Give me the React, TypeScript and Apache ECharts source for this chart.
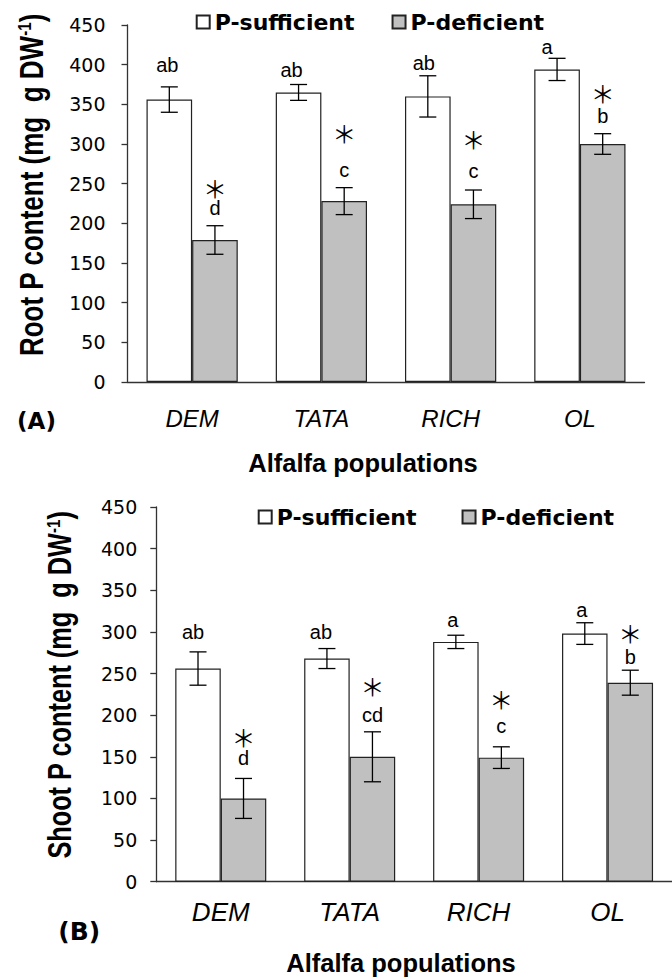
import React, { useEffect, useRef } from 'react';
import * as echarts from 'echarts';

// ---------- data ----------
const categories = ['DEM', 'TATA', 'RICH', 'OL'];
const seriesNames = ['P-sufficient', 'P-deficient'];

// (A) Root P content
const rootSufficient = [356, 365, 360, 394];
const rootSufficientErr = [16, 10, 26, 14];
const rootDeficient = [179, 228, 224, 300];
const rootDeficientErr = [18, 17, 18, 13];
const rootSufficientLetters = ['ab', 'ab', 'ab', 'a'];
const rootDeficientLetters = ['d', 'c', 'c', 'b'];

// (B) Shoot P content
const shootSufficient = [256, 268, 288, 298];
const shootSufficientErr = [20, 12, 8, 13];
const shootDeficient = [100, 150, 149, 239];
const shootDeficientErr = [24, 30, 13, 15];
const shootSufficientLetters = ['ab', 'ab', 'a', 'a'];
const shootDeficientLetters = ['d', 'cd', 'c', 'b'];

const significanceMark = ['＊', '＊', '＊', '＊'];

const yMin = 0;
const yMax = 450;
const yStep = 50;

// ---------- label placement tweaks (pixels above error-bar top) ----------
const rootSuffLift = [22, 15, 13, 11];
const rootSuffDx = [-2, -7, -4, -10];
const rootDefLift = [18, 18, 19, 18];
const rootStarLift = [38, 55, 52, 41];
const shootSuffLift = [20, 17, 15, 13];
const shootSuffDx = [-5, -6, -3, -3];
const shootDefLift = [20, 17, 21, 13];
const shootStarLift = [42, 46, 48, 38];

// ---------- styles ----------
const GAP = 0.294;
const SANS = "'Liberation Sans', Arial, sans-serif";
const WIDE = "'DejaVu Sans', sans-serif";
const STAR_FONT = "'Noto Sans CJK JP', 'DejaVu Sans', sans-serif";
const AXIS_COLOR = '#333';
const BORDER = '#222';
const GRAY = '#c0c0c0';
const STAR_SIZE = 24;
const STAR_SHIFT = 0;

function errorSeries(gi: number, suff: number[], suffErr: number[], def: number[], defErr: number[]) {
  const data: number[][] = [];
  categories.forEach((_, i) => {
    data.push([i, suff[i], suffErr[i], 0]);
    data.push([i, def[i], defErr[i], 1]);
  });
  return {
    type: 'custom',
    xAxisIndex: gi,
    yAxisIndex: gi,
    silent: true,
    z: 5,
    encode: { x: 0, y: 1 },
    data,
    renderItem: (params: any, api: any) => {
      const cat = api.value(0);
      const mean = api.value(1);
      const err = api.value(2);
      const side = api.value(3);
      const band = api.size([1, 0])[0];
      const bw = (band * (1 - GAP)) / 2;
      const cx = api.coord([cat, 0])[0] + (side === 0 ? -bw / 2 : bw / 2);
      const yt = api.coord([cat, mean + err])[1];
      const yb = api.coord([cat, mean - err])[1];
      const half = 8.5;
      const ls = { stroke: '#000', lineWidth: 1.3 };
      return {
        type: 'group',
        children: [
          { type: 'line', shape: { x1: cx, y1: yt, x2: cx, y2: yb }, style: ls },
          { type: 'line', shape: { x1: cx - half, y1: yt, x2: cx + half, y2: yt }, style: ls },
          { type: 'line', shape: { x1: cx - half, y1: yb, x2: cx + half, y2: yb }, style: ls },
        ],
      };
    },
  };
}

function labelSeries(
  gi: number,
  suff: number[], suffErr: number[], def: number[], defErr: number[],
  suffLetters: string[], defLetters: string[],
  suffLift: number[], suffDx: number[], defLift: number[], starLift: number[]
) {
  return {
    type: 'custom',
    xAxisIndex: gi,
    yAxisIndex: gi,
    silent: true,
    z: 6,
    encode: { x: 0, y: 1 },
    data: categories.map((_, i) => [i, def[i]]),
    renderItem: (params: any, api: any) => {
      const i = params.dataIndex;
      const band = api.size([1, 0])[0];
      const bw = (band * (1 - GAP)) / 2;
      const c = api.coord([i, 0])[0];
      const xs = c - bw / 2;
      const xd = c + bw / 2;
      const ys = api.coord([i, suff[i] + suffErr[i]])[1];
      const yd = api.coord([i, def[i] + defErr[i]])[1];
      const txt = (x: number, y: number, t: string, size: number, family: string, shift = 0) => ({
        type: 'text',
        x,
        y: y + shift,
        style: {
          text: t,
          fontFamily: family,
          fontSize: size,
          fill: '#000',
          align: 'center',
          verticalAlign: 'middle',
        },
      });
      return {
        type: 'group',
        children: [
          txt(xs + suffDx[i], ys - suffLift[i], suffLetters[i], 20, SANS),
          txt(xd, yd - defLift[i], defLetters[i], 20, SANS),
          txt(xd, yd - starLift[i], significanceMark[i], STAR_SIZE, STAR_FONT, STAR_SHIFT),
        ],
      };
    },
  };
}

function barSeries(gi: number, suff: number[], def: number[]) {
  const common = {
    type: 'bar',
    xAxisIndex: gi,
    yAxisIndex: gi,
    barGap: '0%',
    barCategoryGap: (GAP * 100).toFixed(1) + '%',
    silent: true,
  };
  return [
    { ...common, name: seriesNames[0], data: suff, itemStyle: { color: '#fff', borderColor: BORDER, borderWidth: 1.2 } },
    { ...common, name: seriesNames[1], data: def, itemStyle: { color: GRAY, borderColor: BORDER, borderWidth: 1.2 } },
  ];
}

function yAxis(gi: number, margin: number) {
  return {
    type: 'value',
    gridIndex: gi,
    min: yMin,
    max: yMax,
    interval: yStep,
    axisLine: { show: true, lineStyle: { color: AXIS_COLOR, width: 1.3 } },
    axisTick: { show: true, inside: false, length: 6, lineStyle: { color: AXIS_COLOR, width: 1.3 } },
    splitLine: { show: false },
    axisLabel: { fontFamily: WIDE, fontSize: 19, color: '#000', margin },
  };
}

function xAxis(gi: number, size: number, margin: number) {
  return {
    type: 'category',
    gridIndex: gi,
    data: categories,
    axisLine: { show: true, lineStyle: { color: AXIS_COLOR, width: 1.3 } },
    axisTick: { show: false },
    axisLabel: { fontFamily: SANS, fontStyle: 'italic', fontSize: size, color: '#000', margin },
  };
}

function legend(left: number, top: number, gap: number) {
  return {
    data: seriesNames,
    left,
    top,
    orient: 'horizontal',
    itemWidth: 13,
    itemHeight: 13,
    itemGap: gap,
    icon: 'rect',
    selectedMode: false,
    textStyle: { fontFamily: WIDE, fontWeight: 'bold', fontSize: 22, color: '#000', lineHeight: 22 },
  };
}

function yTitle(x: number, y: number, main: string, size: number) {
  return {
    type: 'text',
    x,
    y,
    rotation: Math.PI / 2,
    scaleY: 1.28,
    silent: true,
    style: {
      text: `{a|${main} (mg  g DW}{s|-1}{a|)}`,
      align: 'center',
      verticalAlign: 'middle',
      fill: '#000',
      rich: {
        a: { fontFamily: SANS, fontWeight: 'bold', fontSize: size, lineHeight: size, fill: '#000' },
        s: { fontFamily: SANS, fontWeight: 'bold', fontSize: Math.round(size * 0.58), verticalAlign: 'top', lineHeight: size, fill: '#000' },
      },
    },
  };
}

function plainText(x: number, y: number, t: string, family: string, size: number) {
  return {
    type: 'text',
    x,
    y,
    silent: true,
    style: { text: t, fontFamily: family, fontWeight: 'bold', fontSize: size, fill: '#000', align: 'center', verticalAlign: 'middle' },
  };
}

export default function App() {
  const ref = useRef<HTMLDivElement>(null);
  useEffect(() => {
    if (!ref.current) return;
    const chart = echarts.init(ref.current, undefined, { renderer: 'svg' });
    chart.setOption({
      animation: false,
      backgroundColor: '#fff',
      grid: [
        { left: 127.5, top: 25, width: 517, height: 357, containLabel: false },
        { left: 156.3, top: 507, width: 526.4, height: 374.7, containLabel: false },
      ],
      xAxis: [xAxis(0, 24, 24), xAxis(1, 26, 17)],
      yAxis: [yAxis(0, 22), yAxis(1, 19)],
      legend: [legend(190.7, 6, 37), legend(252.7, 501, 45)],
      series: [
        ...barSeries(0, rootSufficient, rootDeficient),
        errorSeries(0, rootSufficient, rootSufficientErr, rootDeficient, rootDeficientErr),
        labelSeries(0, rootSufficient, rootSufficientErr, rootDeficient, rootDeficientErr,
          rootSufficientLetters, rootDeficientLetters, rootSuffLift, rootSuffDx, rootDefLift, rootStarLift),
        ...barSeries(1, shootSufficient, shootDeficient),
        errorSeries(1, shootSufficient, shootSufficientErr, shootDeficient, shootDeficientErr),
        labelSeries(1, shootSufficient, shootSufficientErr, shootDeficient, shootDeficientErr,
          shootSufficientLetters, shootDeficientLetters, shootSuffLift, shootSuffDx, shootDefLift, shootStarLift),
      ],
      graphic: [
        yTitle(31, 185, 'Root P content', 26),
        yTitle(60, 685, 'Shoot P content', 25.3),
        plainText(36.5, 421, '(A)', WIDE, 23),
        plainText(79.3, 931, '(B)', WIDE, 25),
        plainText(363, 462.5, 'Alfalfa populations', SANS, 25.5),
        plainText(401, 962.5, 'Alfalfa populations', SANS, 25.5),
      ],
    });
    return () => chart.dispose();
  }, []);
  return (
    <div
      ref={ref}
      style={{ position: 'absolute', left: 0, top: 0, width: 672, height: 980, overflow: 'hidden' }}
    />
  );
}
